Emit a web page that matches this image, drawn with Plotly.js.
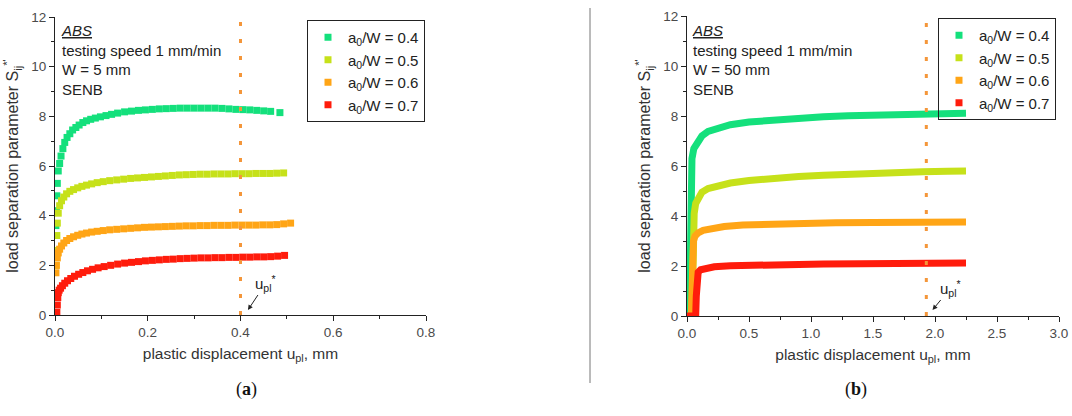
<!DOCTYPE html>
<html>
<head>
<meta charset="utf-8">
<script src="https://cdn.plot.ly/plotly-3.0.1.min.js"></script>
<style>html,body{margin:0;padding:0;background:#fff;}#chart{width:1072px;height:416px;}</style>
</head>
<body>
<div id="chart"></div>
<script>
// ---------- data ----------
const seriesNames = ['a<sub>0</sub>/W = 0.4', 'a<sub>0</sub>/W = 0.5', 'a<sub>0</sub>/W = 0.6', 'a<sub>0</sub>/W = 0.7'];
const seriesColors = ['#14e07c', '#c6e11a', '#ffa516', '#ff1c0c'];

// (a) W = 5 mm
const a04_x = [0.002,0.003,0.004,0.005,0.007,0.010,0.013,0.017,0.021,0.026,0.032,0.038,0.045,0.052,0.060,0.068,0.077,0.087,0.098,0.110,0.122,0.135,0.150,0.165,0.180,0.195,0.210,0.225,0.240,0.255,0.270,0.285,0.300,0.315,0.330,0.345,0.360,0.375,0.390,0.405,0.420,0.435,0.450,0.465,0.485];
const a04_y = [3.6,4.2,4.8,5.3,5.8,6.1,6.4,6.7,6.95,7.15,7.3,7.45,7.55,7.65,7.75,7.82,7.88,7.93,7.98,8.03,8.08,8.13,8.18,8.21,8.24,8.26,8.28,8.30,8.31,8.32,8.33,8.33,8.33,8.33,8.33,8.33,8.32,8.30,8.28,8.27,8.26,8.24,8.22,8.20,8.15];

const a05_x = [0.002,0.003,0.004,0.005,0.007,0.010,0.014,0.019,0.025,0.032,0.040,0.049,0.058,0.068,0.079,0.091,0.104,0.118,0.133,0.148,0.163,0.178,0.193,0.208,0.223,0.238,0.253,0.268,0.283,0.298,0.313,0.328,0.343,0.358,0.373,0.388,0.403,0.418,0.433,0.448,0.463,0.478,0.493];
const a05_y = [2.0,2.6,3.2,3.7,4.1,4.4,4.6,4.75,4.88,4.98,5.05,5.12,5.18,5.23,5.28,5.33,5.37,5.41,5.44,5.47,5.50,5.52,5.54,5.56,5.58,5.60,5.62,5.64,5.65,5.66,5.67,5.67,5.68,5.68,5.68,5.69,5.69,5.69,5.70,5.70,5.70,5.71,5.72];

const a06_x = [0.002,0.003,0.005,0.007,0.010,0.014,0.019,0.025,0.032,0.040,0.049,0.058,0.068,0.079,0.091,0.104,0.118,0.133,0.148,0.163,0.178,0.193,0.208,0.223,0.238,0.253,0.268,0.283,0.298,0.313,0.328,0.343,0.358,0.373,0.388,0.403,0.418,0.433,0.448,0.463,0.478,0.493,0.508];
const a06_y = [1.7,2.0,2.3,2.5,2.65,2.78,2.9,3.0,3.08,3.15,3.21,3.26,3.30,3.34,3.37,3.40,3.43,3.45,3.47,3.49,3.51,3.53,3.54,3.55,3.56,3.57,3.58,3.59,3.59,3.60,3.60,3.61,3.61,3.61,3.62,3.62,3.62,3.62,3.63,3.63,3.64,3.67,3.70];

const a07_x = [0.000,0.002,0.004,0.005,0.006,0.007,0.009,0.012,0.016,0.021,0.027,0.034,0.042,0.051,0.060,0.070,0.081,0.093,0.106,0.120,0.135,0.150,0.165,0.180,0.195,0.210,0.225,0.240,0.255,0.270,0.285,0.300,0.315,0.330,0.345,0.360,0.375,0.390,0.405,0.420,0.435,0.450,0.465,0.480,0.495];
const a07_y = [0.0,0.0,0.1,0.4,0.7,0.9,1.0,1.08,1.18,1.28,1.38,1.47,1.56,1.64,1.71,1.78,1.84,1.90,1.95,2.00,2.05,2.09,2.12,2.15,2.18,2.20,2.22,2.24,2.25,2.27,2.28,2.29,2.30,2.30,2.31,2.31,2.32,2.32,2.33,2.33,2.34,2.34,2.35,2.37,2.40];

// (b) W = 50 mm
const b04_x = [0.020,0.022,0.025,0.028,0.033,0.040,0.055,0.080,0.120,0.170,0.250,0.350,0.500,0.700,0.900,1.100,1.300,1.500,1.700,1.900,2.100,2.250];
const b04_y = [0.0,2.0,4.0,5.2,5.9,6.3,6.7,6.95,7.2,7.38,7.53,7.65,7.76,7.85,7.92,7.97,8.01,8.04,8.07,8.09,8.10,8.11];

const b05_x = [0.040,0.045,0.050,0.058,0.070,0.090,0.120,0.170,0.250,0.350,0.500,0.700,0.900,1.100,1.300,1.500,1.700,1.900,2.100,2.250];
const b05_y = [0.0,2.5,3.5,4.1,4.5,4.75,4.95,5.1,5.22,5.32,5.42,5.52,5.58,5.63,5.68,5.72,5.75,5.77,5.79,5.80];

const b06_x = [0.035,0.040,0.045,0.052,0.065,0.090,0.130,0.200,0.300,0.450,0.650,0.900,1.200,1.500,1.800,2.100,2.250];
const b06_y = [0.0,2.0,2.7,3.0,3.2,3.33,3.43,3.52,3.58,3.64,3.68,3.71,3.73,3.74,3.75,3.76,3.76];

const b07_x = [0.000,0.040,0.070,0.075,0.080,0.090,0.110,0.150,0.220,0.350,0.550,0.800,1.100,1.400,1.700,2.000,2.250];
const b07_y = [0.0,0.0,0.0,0.8,1.5,1.75,1.85,1.92,1.97,2.01,2.04,2.06,2.08,2.09,2.10,2.11,2.12];

// critical displacement u_pl* and y-range of its marker line
const uplStarA = 0.40;
const uplStarB = 1.93;
const yLineRange = [0, 12];

// axis tick values
const xTicksA = [0, 0.2, 0.4, 0.6, 0.8];
const xTicksB = [0, 0.5, 1.0, 1.5, 2.0, 2.5, 3.0];
const yTicks = [0, 2, 4, 6, 8, 10, 12];

// ---------- traces ----------
const dataA = [[a04_x,a04_y],[a05_x,a05_y],[a06_x,a06_y],[a07_x,a07_y]];
const dataB = [[b04_x,b04_y],[b05_x,b05_y],[b06_x,b06_y],[b07_x,b07_y]];
const traces = [];
dataA.forEach((d,i)=>{
  traces.push({x:d[0], y:d[1], xaxis:'x', yaxis:'y', type:'scatter', mode:'markers',
    name:seriesNames[i], legend:'legend',
    marker:{symbol:'square', size:7, color:seriesColors[i]}});
});
dataB.forEach((d,i)=>{
  traces.push({x:d[0], y:d[1], xaxis:'x2', yaxis:'y2', type:'scatter', mode:'lines',
    name:seriesNames[i], showlegend:false,
    line:{color:seriesColors[i], width:7}});
});
// legend entries for panel (b)
seriesNames.forEach((n,i)=>{
  traces.push({x:[null], y:[null], xaxis:'x2', yaxis:'y2', type:'scatter', mode:'markers',
    name:n, legend:'legend2', marker:{symbol:'square', size:7, color:seriesColors[i]}});
});
// u_pl* dotted lines
const dotColor = '#f4963a';
traces.push({x:[uplStarA,uplStarA], y:yLineRange, xaxis:'x', yaxis:'y', mode:'lines', showlegend:false,
  line:{color:dotColor, width:3, dash:'4px,13px'}, hoverinfo:'skip'});
traces.push({x:[uplStarB,uplStarB], y:yLineRange, xaxis:'x2', yaxis:'y2', mode:'lines', showlegend:false,
  line:{color:dotColor, width:3, dash:'4px,13px'}, hoverinfo:'skip'});

// ---------- layout ----------
const W = 1072, H = 416;
const px = v => v / W;
const py = v => (H - v) / H;
const font = '"Liberation Sans", Arial, sans-serif';
const axisCol = '#222';
const tickFont = {family:font, size:13.5, color:'#4a4a4a'};
const titleFont = {family:font, size:15.5, color:'#333'};
const yTitleFont = {family:font, size:16, color:'#333'};

function mainX(domain, range, tickvals, minorDtick){
  return {domain, range, tickvals, ticktext:tickvals.map(v=>v.toFixed(1)),
    ticks:'outside', ticklen:5, tickwidth:1, tickcolor:axisCol,
    showline:true, linecolor:axisCol, linewidth:1, zeroline:false, showgrid:false,
    minor:{dtick:minorDtick, ticks:'outside', ticklen:3, tickcolor:axisCol, showgrid:false},
    tickfont:tickFont, fixedrange:true};
}
function mirrorX(over, anchor, range, tickvals, minorDtick){
  return {overlaying:over, anchor, side:'top', range, tickvals, showticklabels:false,
    ticks:'inside', ticklen:5, tickwidth:1, tickcolor:axisCol,
    showline:true, linecolor:axisCol, linewidth:1, zeroline:false, showgrid:false,
    minor:{dtick:minorDtick, ticks:'inside', ticklen:3, tickcolor:axisCol, showgrid:false}};
}
function mainY(domain, anchor){
  return {domain, anchor, range:[0,12], tickvals:yTicks, ticks:'outside', ticklen:5, tickwidth:1, tickcolor:axisCol,
    showline:true, linecolor:axisCol, linewidth:1, zeroline:false, showgrid:false,
    minor:{dtick:1, ticks:'outside', ticklen:3, tickcolor:axisCol, showgrid:false},
    tickfont:tickFont,
    title:{text:"load separation parameter S<sub>ij</sub><sup>*'</sup>", font:yTitleFont, standoff:8}};
}
function mirrorY(over, anchor){
  return {overlaying:over, anchor, side:'right', range:[0,12], tickvals:yTicks, showticklabels:false,
    ticks:'inside', ticklen:5, tickwidth:1, tickcolor:axisCol,
    showline:true, linecolor:axisCol, linewidth:1, zeroline:false, showgrid:false,
    minor:{dtick:1, ticks:'inside', ticklen:3, tickcolor:axisCol, showgrid:false}};
}

const xA = mainX([px(55), px(426)], [0,0.8], xTicksA, 0.1);
xA.anchor = 'y';
xA.title = {text:'plastic displacement u<sub>pl</sub>, mm', font:titleFont, standoff:8};
const xB = mainX([px(687), px(1059)], [0,3], xTicksB, 0.25);
xB.anchor = 'y2';
xB.title = {text:'plastic displacement u<sub>pl</sub>, mm', font:titleFont, standoff:8};

const legendBase = {bordercolor:'#222', borderwidth:1, bgcolor:'rgba(255,255,255,0)',
  font:{family:font, size:15, color:'#222'}, xanchor:'left', yanchor:'top', itemclick:false, itemdoubleclick:false};

const infoFont = {family:font, size:15, color:'#222'};
const layout = {
  width:W, height:H, margin:{l:0,r:0,t:0,b:0},
  paper_bgcolor:'#fff', plot_bgcolor:'#fff',
  font:{family:font},
  xaxis:xA,
  yaxis:mainY([py(315), py(17)], 'x'),
  xaxis3:mirrorX('x', 'y', [0,0.8], xTicksA, 0.1),
  yaxis3:mirrorY('y', 'x'),
  xaxis2:xB,
  yaxis2:mainY([py(316), py(16)], 'x2'),
  xaxis4:mirrorX('x2', 'y2', [0,3], xTicksB, 0.25),
  yaxis4:mirrorY('y2', 'x2'),
  legend:Object.assign({x:px(307), y:py(20)}, legendBase),
  legend2:Object.assign({x:px(938), y:py(18)}, legendBase),
  showlegend:true,
  annotations:[
    {xref:'paper', yref:'paper', x:px(59), y:py(20), xanchor:'left', yanchor:'top', align:'left', showarrow:false,
     text:'<i><u>ABS</u></i><br>testing speed 1 mm/min<br>W = 5 mm<br>SENB', font:infoFont},
    {xref:'paper', yref:'paper', x:px(690), y:py(20), xanchor:'left', yanchor:'top', align:'left', showarrow:false,
     text:'<i><u>ABS</u></i><br>testing speed 1 mm/min<br>W = 50 mm<br>SENB', font:infoFont},
    {xref:'x', yref:'y', x:0.416, y:0.2, text:'u<sub>pl</sub><sup>*</sup>', showarrow:true,
     ax:18, ay:-27, arrowhead:2, arrowsize:1, arrowwidth:1, arrowcolor:'#222', standoff:0,
     font:{family:font, size:15, color:'#222'}},
    {xref:'x2', yref:'y2', x:1.98, y:0.24, text:'u<sub>pl</sub><sup>*</sup>', showarrow:true,
     ax:18, ay:-22, arrowhead:2, arrowsize:1, arrowwidth:1, arrowcolor:'#222', standoff:0,
     font:{family:font, size:15, color:'#222'}},
    {xref:'paper', yref:'paper', x:px(234), y:py(402), showarrow:false, text:'(<b>a</b>)',
     font:{family:'"Liberation Serif", "Times New Roman", serif', size:18, color:'#111'}},
    {xref:'paper', yref:'paper', x:px(869), y:py(402), showarrow:false, text:'(<b>b</b>)',
     font:{family:'"Liberation Serif", "Times New Roman", serif', size:18, color:'#111'}}
  ],
  shapes:[
    {type:'line', xref:'paper', yref:'paper', x0:px(590), x1:px(590), y0:py(383), y1:py(8),
     line:{color:'#777', width:1}}
  ]
};

Plotly.newPlot('chart', traces, layout, {displayModeBar:false, staticPlot:true});
</script>
</body>
</html>
